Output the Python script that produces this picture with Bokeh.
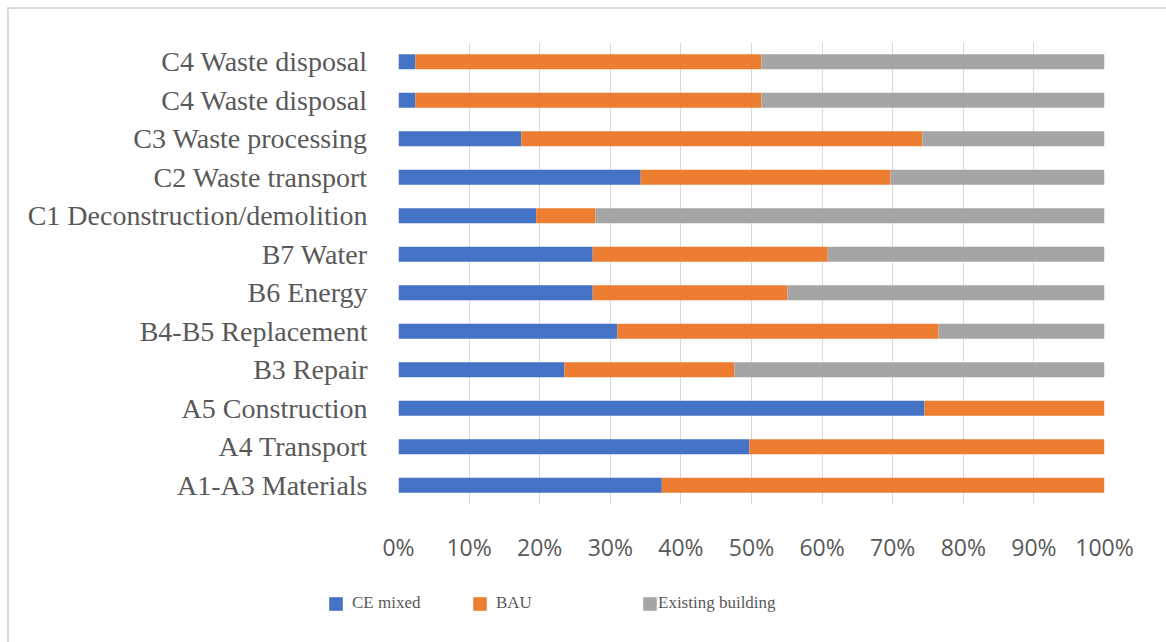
import numpy as np
from bokeh.plotting import figure
from bokeh.layouts import column
from bokeh.models import (ColumnDataSource, FixedTicker, Legend, LegendItem, Range1d,
                          PrintfTickFormatter)
from bokeh.embed import file_html
from bokeh.resources import INLINE

# ---- data (bottom to top) ----
categories = ["A1-A3 Materials", "A4 Transport", "A5 Construction", "B3 Repair",
              "B4-B5 Replacement", "B6 Energy", "B7 Water",
              "C1 Deconstruction/demolition", "C2 Waste transport",
              "C3 Waste processing", "C4 Waste disposal", "C4 Waste disposal"]
ce_mixed = [37.3, 49.7, 74.5, 23.5, 31.0, 27.5, 27.5, 19.5, 34.3, 17.4, 2.4, 2.4]
bau = [62.7, 50.3, 25.5, 24.1, 45.5, 27.6, 33.3, 8.4, 35.4, 56.8, 49.0, 49.0]
existing = [0.0, 0.0, 0.0, 52.4, 23.5, 44.9, 39.2, 72.1, 30.3, 25.8, 48.6, 48.6]
x_ticks = [0, 10, 20, 30, 40, 50, 60, 70, 80, 90, 100]
series_names = ["CE mixed", "BAU", "Existing building"]
colors = ["#4472C4", "#ED7D31", "#A5A5A5"]

pos = list(range(len(categories)))
ce_arr = np.array(ce_mixed)
bau_arr = np.array(bau)
ex_arr = np.array(existing)
src = ColumnDataSource(dict(
    y=pos,
    ce_l=np.zeros(len(pos)), ce_r=ce_arr,
    bau_l=ce_arr, bau_r=ce_arr + bau_arr,
    ex_l=ce_arr + bau_arr, ex_r=ce_arr + bau_arr + ex_arr,
))

p = figure(frame_width=706, frame_height=462,
           min_border_left=389, min_border_right=62,
           min_border_top=33, min_border_bottom=60,
           x_range=Range1d(0, 100), y_range=Range1d(-0.5, len(categories) - 0.5),
           output_backend="svg", toolbar_location=None)
p.outline_line_color = None
p.background_fill_color = "white"
p.border_fill_color = "white"

bh = 0.39
r_ce = p.hbar(y="y", left="ce_l", right="ce_r", height=bh, source=src,
              fill_color=colors[0], line_color=None)
r_bau = p.hbar(y="y", left="bau_l", right="bau_r", height=bh, source=src,
               fill_color=colors[1], line_color=None)
r_ex = p.hbar(y="y", left="ex_l", right="ex_r", height=bh, source=src,
              fill_color=colors[2], line_color=None)

# axes
xa = p.xaxis[0]
xa.ticker = FixedTicker(ticks=x_ticks)
xa.formatter = PrintfTickFormatter(format="%d%%")
xa.axis_line_color = None
xa.major_tick_line_color = None
xa.minor_tick_line_color = None
xa.major_label_text_font = "Open Sans"
xa.major_label_text_font_size = "23px"
xa.major_label_text_color = "#595959"
xa.major_label_standoff = 20

ya = p.yaxis[0]
ya.ticker = FixedTicker(ticks=pos)
ya.major_label_overrides = {i: c for i, c in zip(pos, categories)}
ya.axis_line_color = None
ya.major_tick_line_color = None
ya.minor_tick_line_color = None
ya.major_label_text_font = "Liberation Serif"
ya.major_label_text_font_size = "28px"
ya.major_label_text_color = "#595959"
ya.major_label_standoff = 25

p.xgrid.ticker = FixedTicker(ticks=x_ticks)
p.xgrid.grid_line_color = "#d9d9d9"
p.xgrid.grid_line_width = 1
p.ygrid.grid_line_color = None

# ---- legend strip (separate figure under the chart) ----
leg = figure(frame_width=1157, frame_height=78, min_border=0,
             x_range=Range1d(0, 1), y_range=Range1d(0, 1),
             output_backend="svg", toolbar_location=None)
leg.axis.visible = False
leg.grid.visible = False
leg.outline_line_color = None
leg.border_fill_color = "white"
# legend proxies: zero-width bars kept outside the visible range
proxy = ColumnDataSource(dict(y=[-5.0], l=[0.0], r=[0.0]))
leg_x = [318, 462, 632]
standoffs = [8, 8, 0]
for name, col, lx, so in zip(series_names, colors, leg_x, standoffs):
    rr = leg.hbar(y="y", left="l", right="r", height=0.2, source=proxy,
                  fill_color=col, line_color=None)
    lg = Legend(items=[LegendItem(label=name, renderers=[rr])],
                location=(lx, 30), orientation="horizontal",
                padding=0, margin=0, spacing=0,
                glyph_width=17, glyph_height=17, label_height=17,
                label_standoff=so,
                label_text_font="Liberation Serif", label_text_font_size="17px",
                label_text_color="#595959",
                border_line_color=None, background_fill_alpha=0)
    leg.add_layout(lg, "center")

layout = column(p, leg, spacing=0)
layout.styles = {"margin-top": "7px", "margin-left": "7px",
                 "border-top": "2px solid #dadada", "border-left": "2px solid #dadada",
                 "background-color": "white"}

open("out.html", "w").write(file_html(layout, INLINE))
